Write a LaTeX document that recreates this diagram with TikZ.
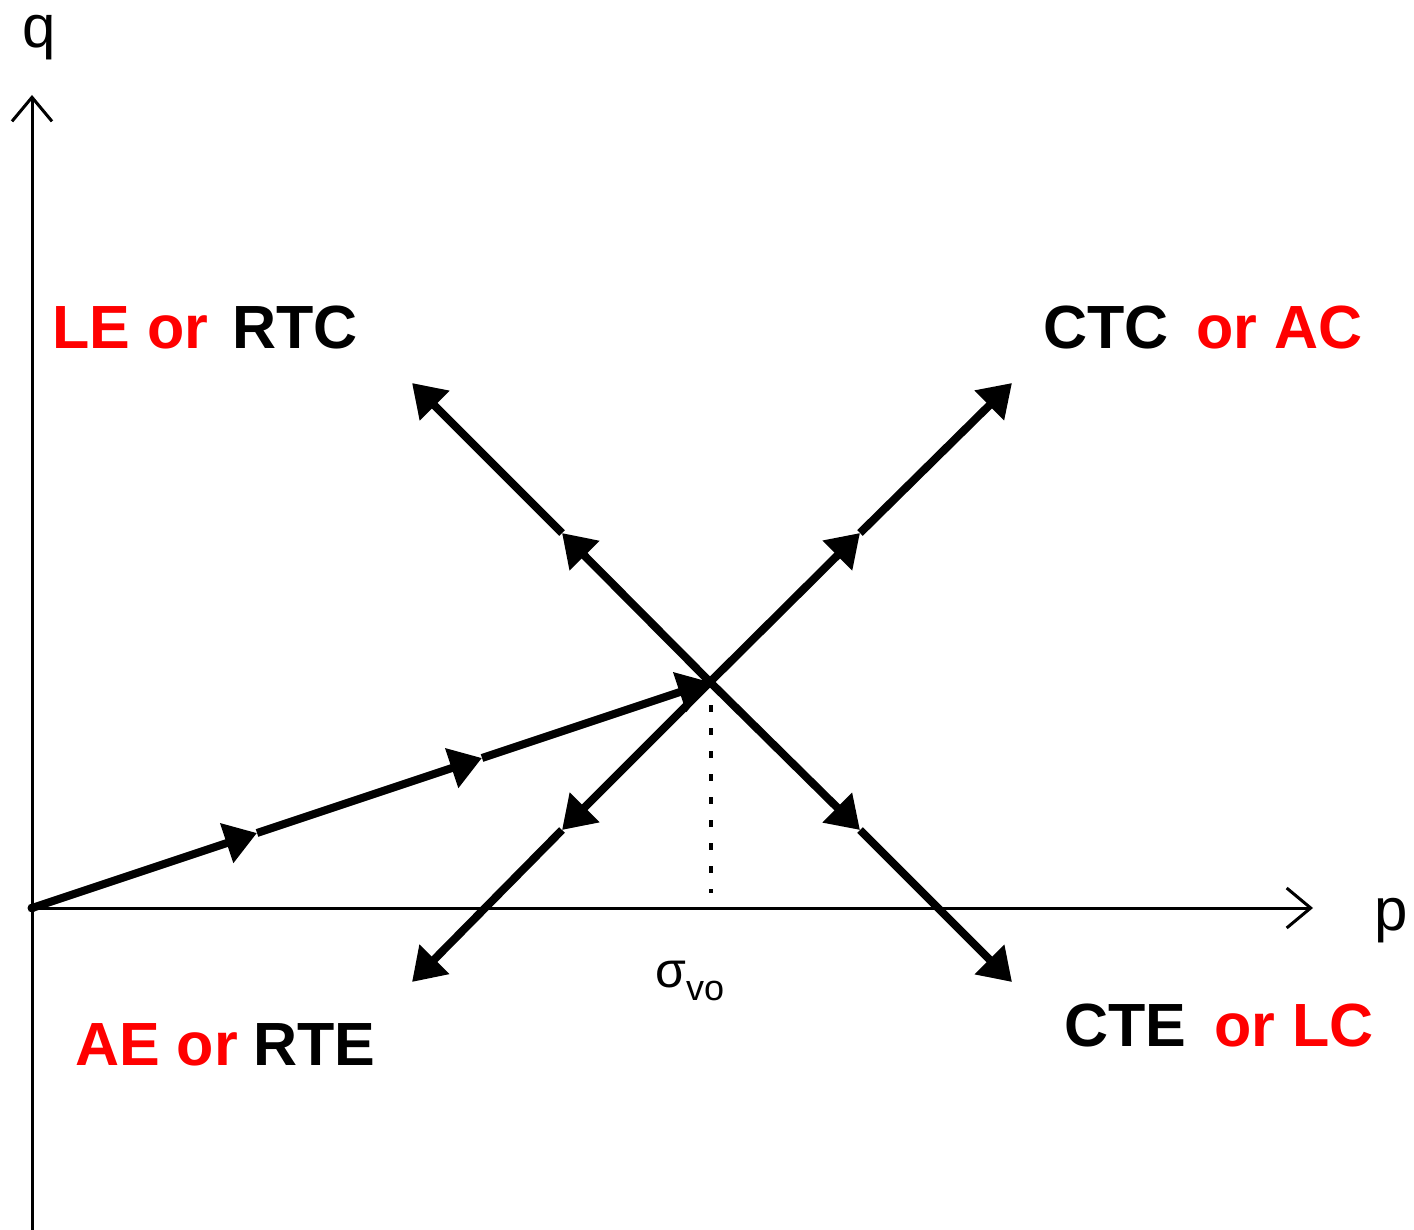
\documentclass[tikz,border=0pt]{standalone}
\usepackage{fontspec}
\setmainfont{Liberation Sans}
\usetikzlibrary{arrows.meta}
\definecolor{lblred}{RGB}{255,0,0}
\begin{document}
\begin{tikzpicture}[x=1pt,y=-1pt,
  axis/.style={line width=3pt},
  axistip/.style={-{Straight Barb[length=24pt,width=40pt,line width=3pt]}},
  thick arrow/.style={line width=8pt,-{Triangle[length=32pt,width=40pt]}},
  lbl/.style={anchor=base west,inner sep=0pt,font=\fontsize{61}{72}\selectfont\bfseries},
  axlbl/.style={anchor=base west,inner sep=0pt,font=\fontsize{60}{72}\selectfont}]
\useasboundingbox (0,0) rectangle (1414,1230);
% coordinates
\coordinate (Ybot) at (32,1230);
\coordinate (Ytop) at (32,95);
\coordinate (O) at (32,908);
\coordinate (Xend) at (1313,908);
\coordinate (A1) at (257,833);
\coordinate (A2) at (482,758);
\coordinate (C) at (710,682);
\coordinate (NW1) at (562,533);
\coordinate (NW2) at (412,383);
\coordinate (NE1) at (860,533);
\coordinate (NE2) at (1012,383);
\coordinate (SW1) at (562,830);
\coordinate (SW2) at (412,982);
\coordinate (SE1) at (860,830);
\coordinate (SE2) at (1012,982);
\coordinate (D1) at (711,705);
\coordinate (D2) at (711,893);
% axes
\draw[axis,axistip] (Ybot) -- (Ytop);
\draw[axis,axistip] (O) -- (Xend);
\node[axlbl] (qlbl) at (22,48) {q};
\node[axlbl] (plbl) at (1374,930) {p};
% dotted
\draw[line width=4pt,dash pattern=on 7pt off 16pt] (D1) -- (D2);
% thick arrows
\fill (O) circle (4.5pt);
\draw[thick arrow] (O) -- (A1);
\draw[thick arrow] (A1) -- (A2);
\draw[thick arrow] (A2) -- (C);
\draw[thick arrow] (C) -- (NW1);
\draw[thick arrow] (NW1) -- (NW2);
\draw[thick arrow] (C) -- (NE1);
\draw[thick arrow] (NE1) -- (NE2);
\draw[thick arrow] (C) -- (SW1);
\draw[thick arrow] (SW1) -- (SW2);
\draw[thick arrow] (C) -- (SE1);
\draw[thick arrow] (SE1) -- (SE2);
% labels
\node[lbl,text=lblred] (le) at (52,349) {LE or};
\node[lbl] (rtc) at (232,349) {RTC};
\node[lbl] (ctc) at (1043,349) {CTC};
\node[lbl,text=lblred] (ac) at (1196,349) {or AC};
\node[lbl,text=lblred] (ae) at (75,1065) {AE or};
\node[lbl] (rte) at (253,1065) {RTE};
\node[lbl] (cte) at (1064,1046) {CTE};
\node[lbl,text=lblred] (lc) at (1214,1046) {or LC};
\node[anchor=base west,inner sep=0pt,font=\fontsize{50}{56}\selectfont] (sig) at (655,987) {σ\raisebox{-13pt}{\fontsize{36}{40}\selectfont vo}};
\end{tikzpicture}
\end{document}
